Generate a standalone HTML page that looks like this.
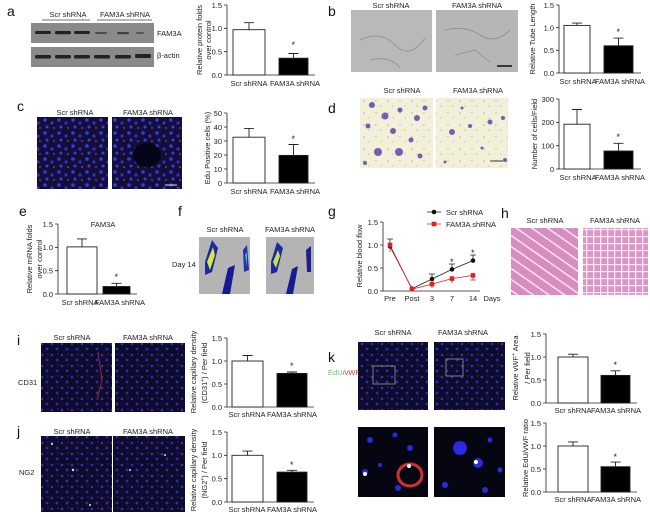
<!DOCTYPE html>
<html><head><meta charset="utf-8"><style>
html,body{margin:0;padding:0;background:#fff}
svg{display:block}
text{font-family:"Liberation Sans",sans-serif;fill:#222}
.t{font-size:7.5px}
.l{font-size:14px;fill:#111}
</style></head><body>
<svg width="650" height="517" viewBox="0 0 650 517" xmlns="http://www.w3.org/2000/svg">
<defs>
<pattern id="fl" width="14" height="13" patternUnits="userSpaceOnUse">
<rect width="14" height="13" fill="#12103a"/>
<circle cx="3" cy="3" r="1.8" fill="#3a3ae0"/><circle cx="10" cy="6" r="1.6" fill="#3030c8"/>
<circle cx="5" cy="10" r="1.5" fill="#3c3cd8"/><circle cx="12" cy="11" r="0.9" fill="#c03080"/></pattern>
<pattern id="fl2" width="10" height="11" patternUnits="userSpaceOnUse">
<rect width="10" height="11" fill="#0e0c2c"/>
<circle cx="2" cy="3" r="1.3" fill="#3030c0"/><circle cx="7" cy="8" r="1.4" fill="#2c2cb4"/><circle cx="8" cy="2" r="0.6" fill="#a02050"/></pattern>
<pattern id="he" width="16" height="9" patternUnits="userSpaceOnUse" patternTransform="rotate(35)">
<rect width="16" height="9" fill="#d98cc0"/><rect y="7" width="16" height="1.5" fill="#f4e6f2"/></pattern>
<pattern id="he2" width="7" height="7" patternUnits="userSpaceOnUse">
<rect width="7" height="7" fill="#dc95c6"/><rect x="5" width="1.3" height="7" fill="#f6eaf4"/><rect y="5" width="7" height="1.2" fill="#f6eaf4"/></pattern>
<pattern id="tr" width="12" height="12" patternUnits="userSpaceOnUse">
<rect width="12" height="12" fill="#f2f0d8"/><circle cx="4" cy="5" r="0.7" fill="#a8a8b8"/><circle cx="9" cy="10" r="0.6" fill="#b0a8c0"/></pattern>
</defs>

<text class="l" x="7" y="16">a</text>
<text class="l" x="328" y="16">b</text>
<text class="l" x="17" y="111">c</text>
<text class="l" x="328" y="113">d</text>
<text class="l" x="19" y="216">e</text>
<text class="l" x="178" y="216">f</text>
<text class="l" x="328" y="216">g</text>
<text class="l" x="501" y="218">h</text>
<text class="l" x="17" y="345">i</text>
<text class="l" x="328" y="362">k</text>
<text class="l" x="17" y="436">j</text>

<text class="t" x="68" y="17" text-anchor="middle">Scr shRNA</text>
<text class="t" x="125" y="17" text-anchor="middle">FAM3A shRNA</text>
<line x1="42" y1="20" x2="90" y2="20" stroke="#444" stroke-width="0.8"/>
<line x1="97" y1="20" x2="152" y2="20" stroke="#444" stroke-width="0.8"/>
<rect x="31" y="23" width="123" height="20" fill="#8a8a8a"/>
<rect x="31" y="47" width="123" height="20" fill="#8a8a8a"/>
<g fill="#222">
<rect x="35" y="31" width="16" height="3" rx="1.5"/><rect x="55" y="31" width="16" height="3.2" rx="1.5"/><rect x="74" y="31" width="16" height="3" rx="1.5"/>
<rect x="95" y="32" width="12" height="2" rx="1" opacity=".6"/><rect x="117" y="32" width="12" height="2.2" rx="1" opacity=".7"/><rect x="136" y="32" width="8" height="2" rx="1" opacity=".5"/>
<rect x="35" y="55" width="16" height="3.5" rx="1.5"/><rect x="55" y="55" width="16" height="3.5" rx="1.5"/><rect x="74" y="55" width="16" height="3.5" rx="1.5"/>
<rect x="94" y="55" width="16" height="3.5" rx="1.5"/><rect x="115" y="55" width="16" height="3.5" rx="1.5"/><rect x="135" y="54" width="16" height="4" rx="1.5"/>
</g>
<text class="t" x="157" y="36">FAM3A</text>
<text class="t" x="157" y="58">β-actin</text>

<text class="t" x="391" y="8" text-anchor="middle">Scr shRNA</text>
<text class="t" x="477" y="8" text-anchor="middle">FAM3A shRNA</text>
<rect x="351" y="10" width="81" height="62" fill="#b9b9b9"/>
<rect x="436" y="10" width="82" height="62" fill="#b6b6b6"/>
<path d="M360 40 Q380 30 395 45 T425 38 M370 60 Q390 55 400 68 M445 30 Q465 25 480 35 T510 30 M455 55 L475 50 L490 62" stroke="#8d8d8d" stroke-width="0.8" fill="none"/>
<line x1="497" y1="66" x2="512" y2="66" stroke="#111" stroke-width="1.5"/>

<text class="t" x="75" y="115" text-anchor="middle">Scr shRNA</text>
<text class="t" x="148" y="115" text-anchor="middle">FAM3A shRNA</text>
<rect x="37" y="117" width="71" height="72" fill="url(#fl)"/>
<rect x="112" y="117" width="70" height="72" fill="url(#fl)"/>
<ellipse cx="147" cy="155" rx="14" ry="12" fill="#05051a"/>
<line x1="165" y1="185" x2="177" y2="185" stroke="#ddd" stroke-width="1"/>

<text class="t" x="402" y="93" text-anchor="middle">Scr shRNA</text>
<text class="t" x="478" y="93" text-anchor="middle">FAM3A shRNA</text>
<rect x="360" y="98" width="73" height="70" fill="url(#tr)"/>
<rect x="436" y="98" width="72" height="70" fill="url(#tr)"/>
<g fill="#7a5bb0">
<circle cx="372" cy="105" r="3"/><circle cx="385" cy="116" r="3.5"/><circle cx="400" cy="110" r="2.5"/><circle cx="417" cy="118" r="3"/><circle cx="425" cy="108" r="2.5"/>
<circle cx="368" cy="126" r="2.5"/><circle cx="393" cy="131" r="3"/><circle cx="411" cy="140" r="2.5"/><circle cx="378" cy="152" r="4"/><circle cx="399" cy="152" r="4"/><circle cx="420" cy="156" r="2.5"/><circle cx="365" cy="163" r="2"/>
<circle cx="452" cy="132" r="3"/><circle cx="470" cy="126" r="2"/><circle cx="490" cy="122" r="2.5"/><circle cx="503" cy="118" r="2"/><circle cx="462" cy="108" r="1.5"/><circle cx="482" cy="148" r="1.5"/><circle cx="505" cy="160" r="2"/><circle cx="445" cy="162" r="1.5"/>
</g>
<line x1="490" y1="161" x2="503" y2="161" stroke="#333" stroke-width="1"/>

<text class="t" x="225" y="232" text-anchor="middle">Scr shRNA</text>
<text class="t" x="290" y="232" text-anchor="middle">FAM3A shRNA</text>
<text class="t" x="172" y="267">Day 14</text>
<rect x="199" y="237" width="51" height="57" fill="#b4b4b4"/>
<rect x="266" y="237" width="48" height="57" fill="#b4b4b4"/>
<path d="M205 262 L212 240 L218 248 L212 272 L205 275 Z" fill="#1c2aa0"/><path d="M207 262 L213 247 L215 255 L210 270 Z" fill="#d8e840"/>
<path d="M222 294 L228 268 L235 265 L230 294 Z" fill="#1a1a90"/>
<path d="M243 250 L247 245 L249 270 L244 272 Z" fill="#2030b0"/><path d="M245 255 L247 252 L247 266 Z" fill="#40c0b0"/>
<path d="M271 262 L277 242 L283 248 L277 272 L271 274 Z" fill="#1c2aa0"/><path d="M273 262 L278 250 L280 256 L276 268 Z" fill="#c8e050"/>
<path d="M286 294 L292 269 L298 266 L293 294 Z" fill="#1a1a90"/>
<path d="M306 250 L311 246 L311 272 L307 272 Z" fill="#1a2090"/>

<text class="t" x="545" y="223" text-anchor="middle">Scr shRNA</text>
<text class="t" x="615" y="223" text-anchor="middle">FAM3A shRNA</text>
<rect x="511" y="228" width="67" height="67" fill="url(#he)"/>
<rect x="583" y="228" width="65" height="67" fill="url(#he2)"/>

<text class="t" x="72" y="340" text-anchor="middle">Scr shRNA</text>
<text class="t" x="148" y="340" text-anchor="middle">FAM3A shRNA</text>
<rect x="41" y="343" width="71" height="69" fill="url(#fl2)"/>
<rect x="115" y="343" width="70" height="69" fill="url(#fl2)"/>
<path d="M98 352 L102 380 L97 400" stroke="#a02040" stroke-width="1" fill="none"/>
<text class="t" x="18" y="385">CD31</text>
<text class="t" x="72" y="434" text-anchor="middle">Scr shRNA</text>
<text class="t" x="148" y="434" text-anchor="middle">FAM3A shRNA</text>
<rect x="41" y="436" width="71" height="76" fill="url(#fl2)"/>
<rect x="113" y="436" width="72" height="76" fill="url(#fl2)"/>
<g fill="#d0f0c0"><circle cx="52" cy="444" r="1"/><circle cx="73" cy="470" r="1.2"/><circle cx="90" cy="505" r="1"/><circle cx="130" cy="470" r="1"/><circle cx="165" cy="455" r="1"/></g>
<text class="t" x="19" y="475">NG2</text>

<text class="t" x="393" y="335" text-anchor="middle">Scr shRNA</text>
<text class="t" x="463" y="335" text-anchor="middle">FAM3A shRNA</text>
<text class="t" x="328" y="375" style="fill:#6c6"><tspan>EdU</tspan><tspan style="fill:#d33">/vWF</tspan></text>
<rect x="358" y="342" width="70" height="68" fill="url(#fl2)"/>
<rect x="434" y="342" width="71" height="68" fill="url(#fl2)"/>
<rect x="373" y="366" width="22" height="18" fill="none" stroke="#999" stroke-width="0.8"/>
<rect x="446" y="359" width="17" height="17" fill="none" stroke="#999" stroke-width="0.8"/>
<rect x="358" y="427" width="70" height="70" fill="#060612"/>
<rect x="434" y="427" width="71" height="70" fill="#060612"/>
<g fill="#2a2ae0"><circle cx="370" cy="440" r="3"/><circle cx="395" cy="435" r="2.5"/><circle cx="410" cy="448" r="3"/><circle cx="380" cy="465" r="2"/><circle cx="365" cy="472" r="3"/><circle cx="398" cy="488" r="3"/>
<circle cx="460" cy="448" r="7"/><circle cx="478" cy="463" r="5"/><circle cx="445" cy="485" r="3"/><circle cx="490" cy="440" r="2.5"/><circle cx="500" cy="470" r="2.5"/><circle cx="485" cy="490" r="3"/></g>
<ellipse cx="410" cy="475" rx="12" ry="11" fill="none" stroke="#d03030" stroke-width="3"/>
<circle cx="365" cy="474" r="2" fill="#fff"/><circle cx="409" cy="466" r="2" fill="#fff"/><circle cx="476" cy="462" r="2" fill="#fff"/>

<g stroke="#222" stroke-width="0.8" fill="none">
<path d="M227 5 V75 H315 M224 5 H227 M224 28.3 H227 M224 51.7 H227 M224 75 H227"/>
<path d="M559 5 V73 H641 M556 5 H559 M556 27.7 H559 M556 50.3 H559 M556 73 H559"/>
<path d="M227 113 V183 H315 M224 113 H227 M224 127 H227 M224 141 H227 M224 155 H227 M224 169 H227 M224 183 H227"/>
<path d="M559 99 V169 H641 M556 99 H559 M556 122.3 H559 M556 145.7 H559 M556 169 H559"/>
<path d="M58 224 V294 H137 M55 224 H58 M55 247.3 H58 M55 270.7 H58 M55 294 H58"/>
<path d="M227 338 V407 H314 M224 338 H227 M224 361 H227 M224 384 H227 M224 407 H227"/>
<path d="M227 432 V502 H314 M224 432 H227 M224 455.3 H227 M224 478.7 H227 M224 502 H227"/>
<path d="M546 334 V403 H637 M543 334 H546 M543 357 H546 M543 380 H546 M543 403 H546"/>
<path d="M546 423 V492 H637 M543 423 H546 M543 446 H546 M543 469 H546 M543 492 H546"/>
<path d="M383 222 V291 H480 M380 222 H383 M380 245 H383 M380 268 H383 M380 291 H383"/>
</g>

<g stroke="#222" stroke-width="0.9">
<rect x="233" y="29.7" width="32" height="45.3" fill="#fff"/><rect x="279" y="58.2" width="29" height="16.8" fill="#000"/>
<rect x="564" y="25.4" width="26" height="47.6" fill="#fff"/><rect x="604" y="45.8" width="29" height="27.2" fill="#000"/>
<rect x="233" y="137.2" width="32" height="45.8" fill="#fff"/><rect x="279" y="155.4" width="29" height="27.6" fill="#000"/>
<rect x="564" y="124.2" width="26" height="44.8" fill="#fff"/><rect x="604" y="151" width="29" height="18" fill="#000"/>
<rect x="67" y="246.9" width="30" height="47.1" fill="#fff"/><rect x="103" y="286.5" width="27" height="7.5" fill="#000"/>
<rect x="232" y="361" width="31" height="46" fill="#fff"/><rect x="277" y="373.4" width="30" height="33.6" fill="#000"/>
<rect x="232" y="455.3" width="31" height="46.7" fill="#fff"/><rect x="277" y="472.1" width="30" height="29.9" fill="#000"/>
<rect x="558" y="357" width="30" height="46" fill="#fff"/><rect x="601" y="375.4" width="29" height="27.6" fill="#000"/>
<rect x="558" y="446" width="30" height="46" fill="#fff"/><rect x="601" y="466.7" width="29" height="25.3" fill="#000"/>
</g>
<g stroke="#222" stroke-width="0.9" fill="none">
<path d="M249 29.7 V22.7 M244 22.7 H254 M293.5 58.2 V53.5 M288.5 53.5 H298.5"/>
<path d="M577 25.4 V23.1 M572 23.1 H582 M618.5 45.8 V38.1 M613.5 38.1 H623.5"/>
<path d="M249 137.2 V128.4 M244 128.4 H254 M293.5 155.4 V144.5 M288.5 144.5 H298.5"/>
<path d="M577 124.2 V109.5 M572 109.5 H582 M618.5 151 V143.3 M613.5 143.3 H623.5"/>
<path d="M82 246.9 V238.9 M77 238.9 H87 M116.5 286.5 V283.3 M111.5 283.3 H121.5"/>
<path d="M247.5 361 V355.5 M242.5 355.5 H252.5 M292 373.4 V372 M287 372 H297"/>
<path d="M247.5 455.3 V451.1 M242.5 451.1 H252.5 M292 472.1 V470.3 M287 470.3 H297"/>
<path d="M573 357 V354.2 M568 354.2 H578 M615.5 375.4 V370.8 M610.5 370.8 H620.5"/>
<path d="M573 446 V441.9 M568 441.9 H578 M615.5 466.7 V462.1 M610.5 462.1 H620.5"/>
</g>
<g class="t" style="font-size:9px">
<text x="291.5" y="48">*</text><text x="616.5" y="35">*</text><text x="291.5" y="142">*</text><text x="616.5" y="140">*</text>
<text x="114.5" y="280">*</text><text x="290" y="369">*</text><text x="290" y="468">*</text><text x="613.5" y="368">*</text><text x="613.5" y="460">*</text>
<text x="450" y="265">*</text><text x="471" y="256">*</text>
</g>

<g class="t" text-anchor="end">
<text x="222" y="8">1.5</text><text x="222" y="31">1.0</text><text x="222" y="54.5">0.5</text><text x="222" y="78">0.0</text>
<text x="554" y="8">1.5</text><text x="554" y="30.5">1.0</text><text x="554" y="53">0.5</text><text x="554" y="76">0.0</text>
<text x="222" y="116">50</text><text x="222" y="130">40</text><text x="222" y="144">30</text><text x="222" y="158">20</text><text x="222" y="172">10</text><text x="222" y="186">0</text>
<text x="554" y="102">300</text><text x="554" y="125">200</text><text x="554" y="148.5">100</text><text x="554" y="172">0</text>
<text x="53" y="227">1.5</text><text x="53" y="250">1.0</text><text x="53" y="273.5">0.5</text><text x="53" y="297">0.0</text>
<text x="222" y="341">1.5</text><text x="222" y="364">1.0</text><text x="222" y="387">0.5</text><text x="222" y="410">0.0</text>
<text x="222" y="435">1.5</text><text x="222" y="458">1.0</text><text x="222" y="481.5">0.5</text><text x="222" y="505">0.0</text>
<text x="541" y="337">1.5</text><text x="541" y="360">1.0</text><text x="541" y="383">0.5</text><text x="541" y="406">0.0</text>
<text x="541" y="426">1.5</text><text x="541" y="449">1.0</text><text x="541" y="472">0.5</text><text x="541" y="495">0.0</text>
<text x="378" y="225">1.5</text><text x="378" y="248">1.0</text><text x="378" y="271">0.5</text><text x="378" y="294">0.0</text>
</g>
<g class="t" text-anchor="middle">
<text x="249" y="86">Scr shRNA</text><text x="295" y="86">FAM3A shRNA</text>
<text x="578" y="84">Scr shRNA</text><text x="620" y="84">FAM3A shRNA</text>
<text x="249" y="194">Scr shRNA</text><text x="295" y="194">FAM3A shRNA</text>
<text x="578" y="180">Scr shRNA</text><text x="620" y="180">FAM3A shRNA</text>
<text x="80" y="305">Scr shRNA</text><text x="120" y="305">FAM3A shRNA</text>
<text x="103" y="227">FAM3A</text>
<text x="247" y="417">Scr shRNA</text><text x="292" y="417">FAM3A shRNA</text>
<text x="247" y="512">Scr shRNA</text><text x="292" y="512">FAM3A shRNA</text>
<text x="573" y="413">Scr shRNA</text><text x="616" y="413">FAM3A shRNA</text>
<text x="573" y="502">Scr shRNA</text><text x="616" y="502">FAM3A shRNA</text>
<text x="390" y="301">Pre</text><text x="412" y="301">Post</text><text x="432" y="301">3</text><text x="452" y="301">7</text><text x="473" y="301">14</text><text x="492" y="301">Days</text>
</g>
<g class="t" text-anchor="middle">
<text transform="translate(202,40) rotate(-90)">Relative protein folds</text>
<text transform="translate(211,40) rotate(-90)">over control</text>
<text transform="translate(535,39) rotate(-90)">Relative Tube Length</text>
<text transform="translate(210,148) rotate(-90)">Edu Positive cells (%)</text>
<text transform="translate(537,134) rotate(-90)">Number of cells/Field</text>
<text transform="translate(32,259) rotate(-90)">Relative mRNA folds</text>
<text transform="translate(42,259) rotate(-90)">over control</text>
<text transform="translate(362,256) rotate(-90)">Relative blood flow</text>
<text transform="translate(196,372) rotate(-90)">Relative capillary density</text>
<text transform="translate(207,373) rotate(-90)">(CD31<tspan baseline-shift="super" font-size="5">+</tspan>) / Per field</text>
<text transform="translate(196,470) rotate(-90)">Relative capillary density</text>
<text transform="translate(207,470) rotate(-90)">(NG2<tspan baseline-shift="super" font-size="5">+</tspan>) / Per field</text>
<text transform="translate(518,368) rotate(-90)">Relative vWF<tspan baseline-shift="super" font-size="5">+</tspan> Area</text>
<text transform="translate(530,368) rotate(-90)">/ Per field</text>
<text transform="translate(528,458) rotate(-90)">Relative EdU/vWF ratio</text>
</g>

<g stroke-width="0.8" fill="none">
<path d="M390 246.4 L412 288.7 L432 279 L452 269.4 L473 260.6" stroke="#222"/>
<path d="M390 245 L412 289.2 L432 284.1 L452 278.6 L473 275.4" stroke="#d22"/>
<path d="M390 245 V239 M387 239 H393 M432 279 V274 M429 274 H435 M452 269.4 V264 M449 264 H455 M473 260.6 V255 M470 255 H476" stroke="#222"/>
<path d="M390 245 V252 M432 284 V288 M452 278.6 V283 M473 275.4 V280 M470 280 H476" stroke="#d22"/>
</g>
<g fill="#111"><circle cx="390" cy="246.4" r="2.3"/><circle cx="412" cy="288.7" r="2.3"/><circle cx="432" cy="279" r="2.3"/><circle cx="452" cy="269.4" r="2.3"/><circle cx="473" cy="260.6" r="2.3"/></g>
<g fill="#d22"><rect x="387.7" y="242.7" width="4.6" height="4.6"/><rect x="409.7" y="286.9" width="4.6" height="4.6"/><rect x="429.7" y="281.8" width="4.6" height="4.6"/><rect x="449.7" y="276.3" width="4.6" height="4.6"/><rect x="470.7" y="273.1" width="4.6" height="4.6"/></g>
<line x1="427" y1="212" x2="441" y2="212" stroke="#222" stroke-width="0.8"/><circle cx="434" cy="212" r="2.3" fill="#111"/>
<text class="t" x="446" y="215">Scr shRNA</text>
<line x1="427" y1="224" x2="441" y2="224" stroke="#d22" stroke-width="0.8"/><rect x="431.7" y="221.7" width="4.6" height="4.6" fill="#d22"/>
<text class="t" x="446" y="227">FAM3A shRNA</text>
</svg>
</body></html>
